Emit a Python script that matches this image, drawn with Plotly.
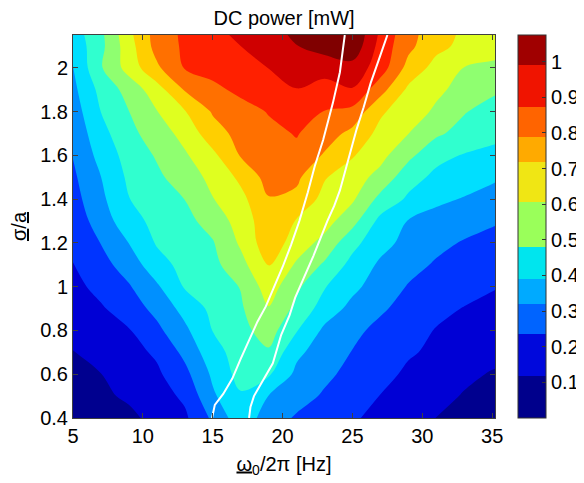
import plotly.graph_objects as go

# ---------------- data ----------------
freq_hz = [5, 7, 9, 11, 13, 15, 17, 19, 21, 23, 25, 27, 29, 31, 33, 35, 37]
sigma_over_a = [0.4, 0.5, 0.6, 0.7, 0.8, 0.9, 1.0, 1.1, 1.2, 1.3, 1.4,
                1.5, 1.6, 1.7, 1.8, 1.9, 2.0, 2.1, 2.2]

# DC power [mW], one row per sigma/a value, one column per frequency
power_mw = [
    [0.030, 0.050, 0.065, 0.101, 0.146, 0.255, 0.370, 0.283, 0.230, 0.200, 0.169, 0.139, 0.110, 0.079, 0.060, 0.045, 0.035],
    [0.050, 0.068, 0.090, 0.127, 0.174, 0.308, 0.390, 0.318, 0.273, 0.230, 0.194, 0.158, 0.130, 0.101, 0.075, 0.064, 0.055],
    [0.065, 0.079, 0.113, 0.146, 0.217, 0.334, 0.430, 0.410, 0.301, 0.257, 0.217, 0.181, 0.148, 0.121, 0.094, 0.075, 0.066],
    [0.078, 0.101, 0.133, 0.172, 0.260, 0.369, 0.437, 0.470, 0.337, 0.281, 0.237, 0.202, 0.167, 0.148, 0.128, 0.100, 0.088],
    [0.098, 0.126, 0.155, 0.221, 0.303, 0.402, 0.456, 0.515, 0.405, 0.304, 0.258, 0.220, 0.188, 0.156, 0.140, 0.120, 0.108],
    [0.118, 0.151, 0.200, 0.263, 0.347, 0.420, 0.470, 0.555, 0.459, 0.364, 0.297, 0.251, 0.213, 0.179, 0.157, 0.142, 0.130],
    [0.138, 0.183, 0.233, 0.308, 0.407, 0.444, 0.483, 0.600, 0.496, 0.405, 0.339, 0.282, 0.235, 0.209, 0.186, 0.165, 0.150],
    [0.158, 0.213, 0.276, 0.369, 0.425, 0.458, 0.533, 0.645, 0.549, 0.468, 0.374, 0.307, 0.264, 0.232, 0.214, 0.195, 0.183],
    [0.176, 0.242, 0.321, 0.407, 0.440, 0.474, 0.572, 0.690, 0.602, 0.534, 0.424, 0.346, 0.296, 0.258, 0.234, 0.225, 0.215],
    [0.193, 0.276, 0.371, 0.422, 0.457, 0.511, 0.595, 0.690, 0.635, 0.593, 0.507, 0.377, 0.316, 0.293, 0.270, 0.246, 0.235],
    [0.210, 0.302, 0.398, 0.440, 0.481, 0.557, 0.617, 0.715, 0.700, 0.615, 0.571, 0.456, 0.387, 0.335, 0.315, 0.302, 0.290],
    [0.226, 0.319, 0.415, 0.464, 0.520, 0.581, 0.657, 0.750, 0.735, 0.646, 0.596, 0.534, 0.431, 0.382, 0.355, 0.328, 0.310],
    [0.243, 0.348, 0.431, 0.488, 0.550, 0.621, 0.726, 0.755, 0.780, 0.712, 0.647, 0.584, 0.500, 0.422, 0.395, 0.385, 0.370],
    [0.262, 0.373, 0.457, 0.520, 0.586, 0.687, 0.745, 0.778, 0.805, 0.757, 0.698, 0.617, 0.561, 0.493, 0.452, 0.417, 0.402],
    [0.280, 0.401, 0.479, 0.557, 0.635, 0.728, 0.767, 0.805, 0.850, 0.797, 0.775, 0.652, 0.597, 0.548, 0.485, 0.450, 0.430],
    [0.300, 0.424, 0.510, 0.605, 0.726, 0.779, 0.820, 0.850, 0.878, 0.850, 0.875, 0.750, 0.624, 0.575, 0.535, 0.495, 0.470],
    [0.318, 0.473, 0.592, 0.706, 0.805, 0.830, 0.855, 0.881, 0.910, 0.910, 0.930, 0.840, 0.693, 0.612, 0.558, 0.545, 0.535],
    [0.345, 0.459, 0.606, 0.750, 0.813, 0.846, 0.880, 0.915, 0.958, 0.995, 1.020, 0.850, 0.740, 0.662, 0.620, 0.592, 0.580],
    [0.370, 0.470, 0.630, 0.750, 0.820, 0.875, 0.900, 0.935, 0.995, 1.020, 1.040, 0.875, 0.750, 0.680, 0.630, 0.600, 0.590],
]

# white curves
curve1_freq = [14.95, 15.15, 15.75, 16.4, 17.0, 17.65, 18.2, 18.8, 19.4, 20.0,
               20.6, 21.2, 21.8, 22.3, 22.9, 23.3, 23.6, 24.1, 24.45]
curve1_sigma = [0.40, 0.46, 0.51, 0.58, 0.67, 0.76, 0.84, 0.91, 1.00, 1.09,
                1.19, 1.30, 1.43, 1.55, 1.67, 1.76, 1.84, 1.98, 2.15]
curve2_freq = [17.6, 17.7, 17.95, 18.6, 19.3, 19.9, 20.5, 20.9, 21.6, 22.2,
               22.7, 23.2, 23.7, 24.1, 24.7, 25.3, 25.8, 26.3, 26.9, 27.5]
curve2_sigma = [0.40, 0.45, 0.50, 0.57, 0.65, 0.78, 0.87, 0.95, 1.05, 1.14,
                1.22, 1.30, 1.37, 1.44, 1.58, 1.72, 1.82, 1.93, 2.04, 2.15]

# contour levels of the filled plot
level_step = 0.08
band_colors = ["#00008F", "#0000D5", "#0034FF", "#0090FF", "#00DFFF", "#30FFCF",
               "#8FFF70", "#DFFF20", "#FFCF00", "#FF7000", "#FF2000", "#CF0000", "#800000"]

# colour bar as drawn in the reference
cbar_edges = [0.0, 0.119, 0.236, 0.320, 0.391, 0.480, 0.606, 0.719, 0.789, 0.873, 0.991, 1.075]
cbar_colors = ["#00008C", "#0008DC", "#0064FF", "#00AAFF", "#00E5EE", "#9AFF5A",
               "#F0E614", "#FFAA00", "#FF6400", "#F01400", "#A00000"]
cbar_ticks = [0.1, 0.2, 0.3, 0.4, 0.5, 0.6, 0.7, 0.8, 0.9, 1.0]
cbar_ticktext = ["0.1", "0.2", "0.3", "0.4", "0.5", "0.6", "0.7", "0.8", "0.9", "1"]

x_ticks = [5, 10, 15, 20, 25, 30, 35]
y_ticks = [0.4, 0.6, 0.8, 1.0, 1.2, 1.4, 1.6, 1.8, 2.0]

# ---------------- figure ----------------
n_bands = len(band_colors)
zmax = n_bands * level_step
plot_scale = []
for i, c in enumerate(band_colors):
    plot_scale.append([i / n_bands, c])
    plot_scale.append([(i + 1) / n_bands, c])

cb_scale = []
top = cbar_edges[-1]
for i, c in enumerate(cbar_colors):
    cb_scale.append([cbar_edges[i] / top, c])
    cb_scale.append([cbar_edges[i + 1] / top, c])

font_family = "Liberation Sans, Arial, Helvetica, sans-serif"
fs = 20

# the page body adds an 8 px offset, so the figure is 8 px smaller
fig_w, fig_h = 576, 475

fig = go.Figure()
fig.add_trace(go.Contour(
    x=freq_hz, y=sigma_over_a, z=power_mw,
    colorscale=plot_scale, zauto=False, zmin=0, zmax=zmax,
    autocontour=False,
    contours=dict(start=level_step, end=zmax - level_step, size=level_step, coloring="fill"),
    line=dict(width=0),
    showscale=False, hoverinfo="skip",
))
for fx, fy in [(curve1_freq, curve1_sigma), (curve2_freq, curve2_sigma)]:
    fig.add_trace(go.Scatter(x=fx, y=fy, mode="lines",
                             line=dict(color="white", width=2),
                             showlegend=False, hoverinfo="skip"))

# trace that only carries the colour bar (points lie outside the axis range)
fig.add_trace(go.Scatter(
    x=[0, 0], y=[0, 0], mode="markers", showlegend=False, hoverinfo="skip",
    marker=dict(size=1, color=[0, top], colorscale=cb_scale, cmin=0, cmax=top,
                showscale=True,
                colorbar=dict(
                    x=1.0545, xanchor="left", y=0.5, yanchor="middle",
                    len=1, lenmode="fraction", thickness=28, thicknessmode="pixels",
                    xpad=0, ypad=0, outlinewidth=1, outlinecolor="#333333",
                    tickvals=cbar_ticks, ticktext=cbar_ticktext,
                    ticks="inside", ticklen=4, tickcolor="#333333",
                    tickfont=dict(size=fs, color="black", family=font_family),
                )),
))

axis_common = dict(showgrid=False, zeroline=False, showline=True, mirror="ticks",
                   linecolor="#404040", linewidth=1, ticks="inside", ticklen=5,
                   tickcolor="#404040", automargin=False,
                   tickfont=dict(size=fs, color="black", family=font_family))

fig.update_layout(
    width=fig_w, height=fig_h,
    margin=dict(l=65, r=89, t=27, b=65, autoexpand=False),
    paper_bgcolor="white", plot_bgcolor="white",
    font=dict(family=font_family, color="black", size=fs),
    title=dict(text="DC power [mW]", x=0.5, xref="paper", y=1,
               yref="container", yanchor="top", xanchor="center",
               pad=dict(t=3, b=0),
               font=dict(size=20, color="black")),
    xaxis=dict(range=[5, 35.2], tickvals=x_ticks,
               title=dict(text="<u>ω</u><sub>0</sub>/2π [Hz]", standoff=10,
                          font=dict(size=fs)),
               **axis_common),
    yaxis=dict(range=[0.4, 2.15], tickvals=y_ticks,
               title=dict(text="<u>σ</u>/<u>a</u>", standoff=8,
                          font=dict(size=fs)),
               **axis_common),
    showlegend=False,
)

fig.write_html("out.html")
